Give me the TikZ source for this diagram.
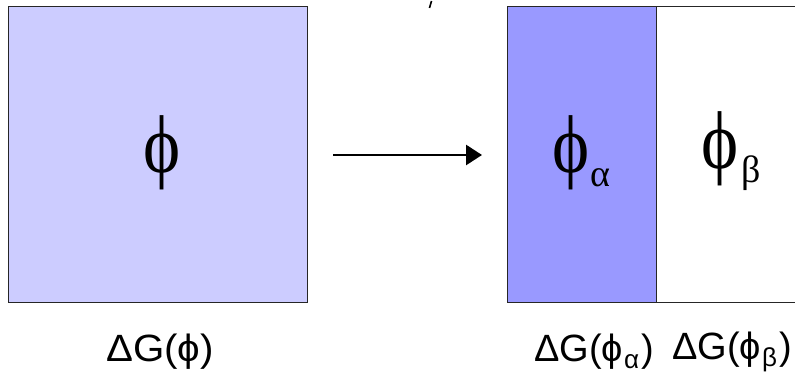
\documentclass[tikz,border=0pt]{standalone}
\usepackage{fontspec}
\setmainfont{Liberation Serif}
\newfontfamily\labfont{Liberation Sans}
\usetikzlibrary{arrows.meta}
\definecolor{lightphase}{HTML}{CCCCFF}
\definecolor{darkphase}{HTML}{9999FF}
\newcommand{\bigphi}{\scalebox{0.86}[1]{ϕ}}
\newcommand{\labsub}[1]{\kern1pt\raisebox{-0.18em}{\fontsize{26}{26}\selectfont #1}\kern2pt}
\tikzset{
  phasebox/.style={draw=black!85, line width=1.3pt, inner sep=0pt, anchor=south west},
  phisym/.style={font=\fontsize{82}{82}\selectfont, inner sep=0pt, anchor=base west},
  subsym/.style={font=\fontsize{38}{38}\selectfont, inner sep=0pt, anchor=base west},
  energylab/.style={font=\labfont\fontsize{38}{38}\selectfont, inner sep=0pt},
  arrowline/.style={line width=2.8pt, -{Triangle[length=16pt,width=20pt]}}
}
\begin{document}
\begin{tikzpicture}[x=1pt,y=1pt]
\useasboundingbox (0,0) rectangle (795,374);
% boxes
\node[phasebox, fill=lightphase, minimum width=299pt, minimum height=296pt] (whole) at (8,71) {};
\node[phasebox, fill=darkphase, minimum width=149pt, minimum height=296pt] (alpha) at (507,71) {};
\node[phasebox, fill=white, minimum width=160pt, minimum height=296pt] (beta) at (656,71) {};
% symbols
\node[phisym] (phi) at (143,201) {\bigphi};
\node[phisym] (phia) at (552,201) {\bigphi};
\node[subsym] (suba) at (590,187) {α};
\node[phisym] (phib) at (701,205) {\bigphi};
\node[subsym] (subb) at (741,191) {β};
% arrow
\coordinate (arrs) at (333,219);
\coordinate (arre) at (482,219);
\draw[arrowline] (arrs) -- (arre);
% stray mark at top
\coordinate (m1) at (431.5,373);
\coordinate (m2) at (429.5,366);
\draw[line width=1.6pt] (m1) -- (m2);
% labels
\node[energylab] (lg) at (160,22) {\scalebox{1.06}[1]{ΔG(ϕ)}};
\node[energylab] (lga) at (594,22) {ΔG(ϕ\labsub{α})};
\node[energylab] (lgb) at (732,22) {ΔG(ϕ\labsub{β})};
\end{tikzpicture}
\end{document}
